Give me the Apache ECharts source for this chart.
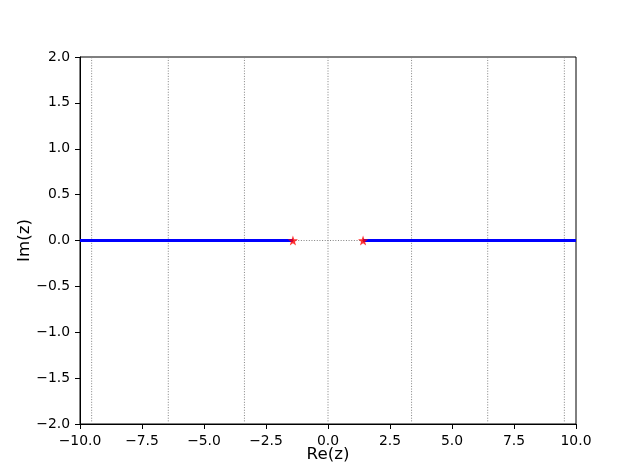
<!DOCTYPE html>
<html><head><meta charset="utf-8">
<script src="https://cdn.jsdelivr.net/npm/echarts@6/dist/echarts.min.js"></script>
<style>html,body{margin:0;padding:0;background:#fff}#c{width:640px;height:476px}</style>
</head><body><div id="c"></div>
<script>
const xRange = [-10, 10];
const yRange = [-2, 2];
const verticalLinesX = [-9.53, -6.44, -3.37, 0, 3.37, 6.44, 9.53];
const branchPoints = [-1.414, 1.414];
const leftCut = [[-10, 0], [-1.414, 0]];
const rightCut = [[1.414, 0], [10, 0]];
const centerSegment = [[-1.414, 0], [1.414, 0]];

const vData = [];
verticalLinesX.forEach(x => { vData.push([x, yRange[0]], [x, yRange[1]], '-'); });

const fmt = v => { const s = v.toFixed(1); return s.replace('-', '\u2212'); };
const star = 'path://M0,-10 L2.35,-3.24 9.51,-3.09 3.8,1.24 5.88,8.09 0,4 -5.88,8.09 -3.8,1.24 -9.51,-3.09 -2.35,-3.24 Z';
const font = 'DejaVu Sans';

const chart = echarts.init(document.getElementById('c'), null, {renderer: 'canvas'});
chart.setOption({
  animation: false,
  backgroundColor: '#fff',
  grid: {left: 80, right: 64, top: 57, bottom: 52, show: true, borderColor: '#000', borderWidth: 1, backgroundColor: 'transparent'},
  xAxis: {
    type: 'value', min: xRange[0], max: xRange[1], interval: 2.5,
    name: 'Re(z)', nameLocation: 'middle', nameGap: 22, nameMoveOverlap: false,
    nameTextStyle: {fontFamily: font, fontSize: 16.7, color: '#000'},
    axisLine: {show: true, onZero: false, lineStyle: {color: '#000', width: 1}},
    axisTick: {show: true, length: 5, inside: false, lineStyle: {color: '#000'}},
    axisLabel: {formatter: fmt, fontFamily: font, fontSize: 13.9, color: '#000', margin: 10},
    splitLine: {show: false}
  },
  yAxis: {
    type: 'value', min: yRange[0], max: yRange[1], interval: 0.5,
    name: 'Im(z)', nameLocation: 'middle', nameGap: 47, nameRotate: 90, nameMoveOverlap: false,
    nameTextStyle: {fontFamily: font, fontSize: 16.7, color: '#000'},
    axisLine: {show: true, onZero: false, lineStyle: {color: '#000', width: 1}},
    axisTick: {show: true, length: 5, inside: false, lineStyle: {color: '#000'}},
    axisLabel: {formatter: fmt, fontFamily: font, fontSize: 13.9, color: '#000', margin: 10},
    splitLine: {show: false}
  },
  series: [
    {type: 'line', data: vData, showSymbol: false, connectNulls: false, silent: true,
     lineStyle: {color: '#808080', width: 1, type: [1, 1.65]}, z: 1},
    {type: 'line', data: centerSegment, showSymbol: false, silent: true,
     lineStyle: {color: '#808080', width: 1, type: [1, 1.65]}, z: 1},
    {type: 'line', data: leftCut, showSymbol: false, silent: true,
     lineStyle: {color: '#0000ff', width: 3}, z: 2},
    {type: 'line', data: rightCut, showSymbol: false, silent: true,
     lineStyle: {color: '#0000ff', width: 3}, z: 2},
    {type: 'scatter', data: branchPoints.map(x => [x, 0]), symbol: star, symbolSize: 10,
     itemStyle: {color: '#ff0000'}, z: 3, silent: true}
  ]
});
</script></body></html>
